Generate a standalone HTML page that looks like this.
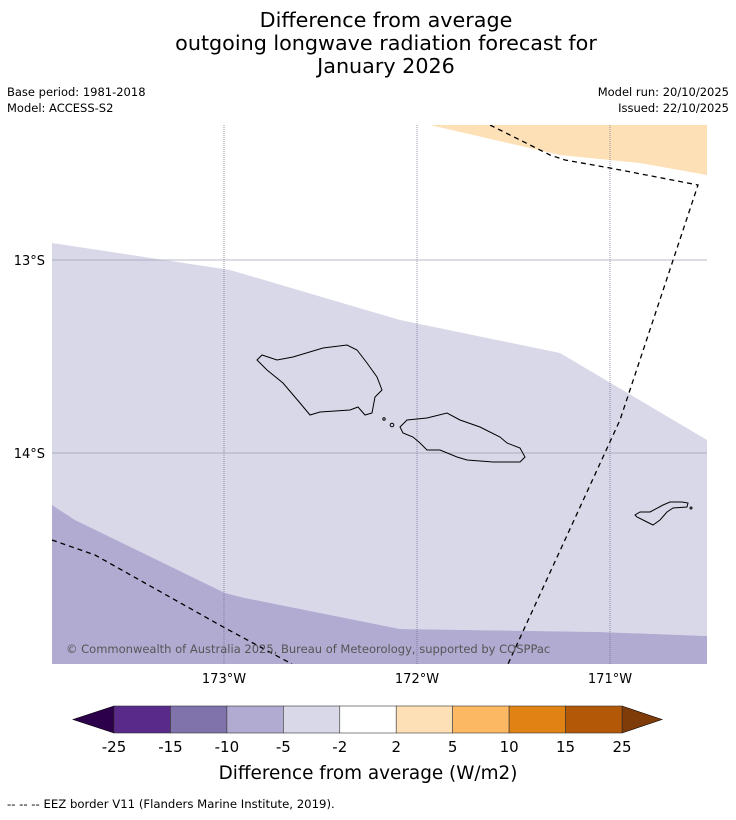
<!DOCTYPE html>
<html><head><meta charset="utf-8">
<style>
body{margin:0;background:#fff;font-family:"DejaVu Sans","Liberation Sans",sans-serif;}
svg text{font-family:"DejaVu Sans","Liberation Sans",sans-serif;}
</style></head>
<body>
<svg id="chart" width="736" height="816" viewBox="0 0 736 816" xmlns="http://www.w3.org/2000/svg">
  <rect width="736" height="816" fill="#fff"/>
  <g font-size="20.7" text-anchor="middle" fill="#000">
    <text x="386" y="27">Difference from average</text>
    <text x="386" y="50">outgoing longwave radiation forecast for</text>
    <text x="386" y="73">January 2026</text>
  </g>
  <g font-size="11.5" fill="#000">
    <text x="7" y="96">Base period: 1981-2018</text>
    <text x="7" y="112">Model: ACCESS-S2</text>
    <text x="729" y="96" text-anchor="end">Model run: 20/10/2025</text>
    <text x="729" y="112" text-anchor="end">Issued: 22/10/2025</text>
  </g>
  <defs><clipPath id="mapclip"><rect x="52" y="125" width="655" height="539"/></clipPath></defs>
  <g id="map" clip-path="url(#mapclip)">
    <polygon fill="#d8d8e9" points="52,243 230,270 400,320 560,353 707,440 707,636 600,632 400,629 245,598 225,593 75,520 52,505"/>
    <polygon fill="#b1abd2" points="52,505 75,520 225,593 245,598 400,629 600,632 707,636 707,664 52,664"/>
    <polygon fill="#fde0b6" points="430,125 560,155 640,163 707,175 707,125"/>
    <g id="grid"></g>
    <g fill="none" stroke="#000" stroke-width="1">
      <polygon points="257,360 262,355 277,360 293,357 323,348 347,345 357,350 367,363 377,377 382,390 375,397 372,413 365,415 358,407 350,410 320,412 310,415 300,403 283,383 267,370"/>
      <polygon points="400,427 407,420 427,418 447,413 460,420 480,427 500,437 507,443 520,448 525,457 520,462 493,462 467,460 457,457 440,450 427,450 420,443 413,437 403,433"/>
      <circle cx="384" cy="419" r="1.2"/>
      <circle cx="392" cy="425" r="1.8"/>
      <polygon points="635,515 640,512 650,512 663,505 670,502 682,502 688,503 687,507 673,508 667,512 660,520 653,525 647,522 637,517"/>
      <circle cx="691" cy="508" r="1"/>
    </g>
    <g fill="none" stroke="#000" stroke-width="1.3" stroke-dasharray="5,4">
      <polyline points="490,125 550,155 565,160 610,168 698,185 620,420 508,664"/>
      <polyline points="52,540 95,555 225,628 292,664"/>
    </g>
    <text x="66" y="653" font-size="11.5" fill="#555">© Commonwealth of Australia 2025, Bureau of Meteorology, supported by COSPPac</text>
  </g>
  <g id="axes" font-size="13" fill="#000"></g>
  <g id="colorbar"></g>
  <text x="368" y="779" font-size="18.4" text-anchor="middle">Difference from average (W/m2)</text>
  <text x="7" y="808" font-size="11.7">--  --  -- EEZ border V11 (Flanders Marine Institute, 2019).</text>
</svg>
<script>
const lonTicks=[-173,-172,-171];
const lonLabels=["173°W","172°W","171°W"];
const latTicks=[-13,-14];
const latLabels=["13°S","14°S"];
const levels=["-25","-15","-10","-5","-2","2","5","10","15","25"];
const binColors=["#5a2a8a","#8073ac","#b1abd2","#d8d8e9","#ffffff","#fde0b6","#fdb863","#e08214","#b35806"];
const extendColors=["#2d004b","#7f3b08"];

const NS="http://www.w3.org/2000/svg";
const lonX=v=>224+(v+173)*193;
const latY=v=>260-(v+13)*193;
function mk(tag,attrs,parent){const e=document.createElementNS(NS,tag);for(const k in attrs)e.setAttribute(k,attrs[k]);parent.appendChild(e);return e;}
const grid=document.getElementById('grid'),axes=document.getElementById('axes');
lonTicks.forEach((v,i)=>{
  const l=mk('line',{x1:lonX(v),x2:lonX(v),y1:125,y2:664,stroke:'#66688a',"stroke-width":0.7,"stroke-dasharray":"1,1"},grid);
  
  
  const t=mk('text',{x:lonX(v),y:683,"text-anchor":"middle"},axes);t.textContent=lonLabels[i];
  
  
});
latTicks.forEach((v,i)=>{
  const l=mk('line',{x1:52,x2:707,y1:latY(v),y2:latY(v),stroke:'#a0a0b4',"stroke-width":0.8},grid);
  
  
  const t=mk('text',{x:45,y:latY(v)+5,"text-anchor":"end"},axes);t.textContent=latLabels[i];
  
  
});
const cb=document.getElementById('colorbar');
const cx0=114,cx1=622,cy0=706,cy1=733,n=binColors.length,w=(cx1-cx0)/n;
const lt=mk('polygon',{points:`${cx0},${cy0} ${cx0},${cy1} 73,${(cy0+cy1)/2}`,fill:extendColors[0],stroke:'#000',"stroke-width":0.6},cb);


const rt=mk('polygon',{points:`${cx1},${cy0} ${cx1},${cy1} 662,${(cy0+cy1)/2}`,fill:extendColors[1],stroke:'#000',"stroke-width":0.6},cb);


binColors.forEach((c,i)=>{
  const r=mk('rect',{x:cx0+i*w,y:cy0,width:w,height:cy1-cy0,fill:c,stroke:'#333',"stroke-width":0.6},cb);
  
  
});
levels.forEach((s,i)=>{
  const t=mk('text',{x:cx0+i*w,y:752,"text-anchor":"middle","font-size":15},cb);t.textContent=s;
  
  
});
</script>
</body></html>
